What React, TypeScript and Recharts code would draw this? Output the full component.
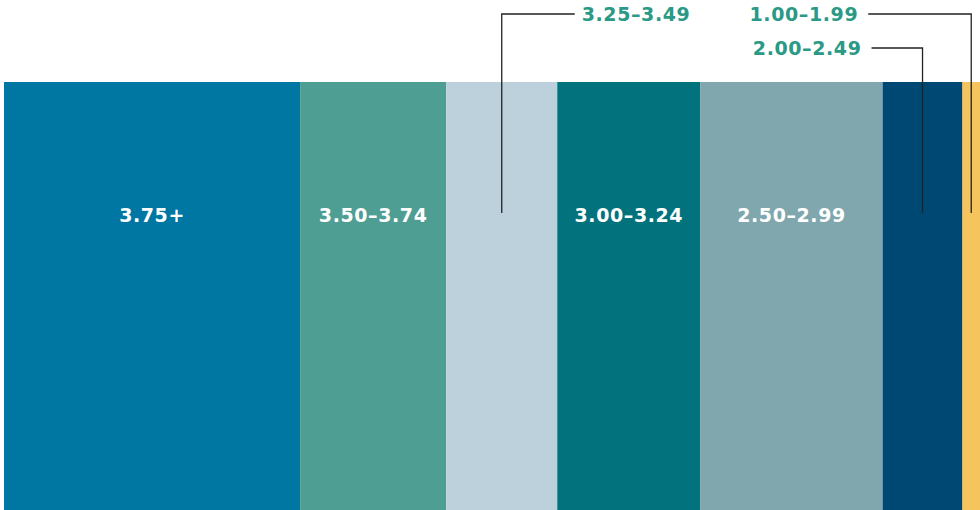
import React from "react";
import { BarChart, Bar, XAxis, YAxis, LabelList } from "recharts";

// GPA bands, left to right, share of students (%)
const bands = ["3.75+", "3.50–3.74", "3.25–3.49", "3.00–3.24", "2.50–2.99", "2.00–2.49", "1.00–1.99"];
const shares = [30.4, 15.0, 11.4, 14.7, 18.7, 8.2, 1.8];
const colors = ["#0077a2", "#4f9e93", "#bcd1db", "#02737d", "#7fa7ad", "#004874", "#f5c45c"];
// labels drawn outside with a leader line (segments too thin for text)
const outsideLabels = ["3.25–3.49", "2.00–2.49", "1.00–1.99"];
const labelRow = [14, 48, 14];
const labelSide = ["right", "left", "left"];

const row: Record<string, string | number> = { name: "GPA" };
bands.forEach((b, i) => {
  row[b] = shares[i];
});
const data = [row];
const total = shares.reduce((a, b) => a + b, 0);

const FONT = "'DejaVu Sans', sans-serif";
const LABEL_DROP = 133;

const makeLabel = (band: string) => (props: any) => {
  const { x, y, width } = props;
  const cx = x + width / 2;
  const ly = y + LABEL_DROP;
  const k = outsideLabels.indexOf(band);
  if (k < 0) {
    return (
      <text x={cx} y={ly} fill="#fff" textAnchor="middle" dominantBaseline="central"
        fontFamily={FONT} fontWeight={700} fontSize={19} letterSpacing={0.6}>
        {band}
      </text>
    );
  }
  const ty = labelRow[k];
  const right = labelSide[k] === "right";
  const hx = right ? cx + 73 : cx - (k === 1 ? 51 : 103);
  return (
    <g>
      <path d={`M${cx},${ly - 2}V${ty}H${hx}`} fill="none" stroke="#222" strokeWidth={1.3} />
      <text x={right ? hx + 7 : hx - 10} y={ty} fill="#2a9985" textAnchor={right ? "start" : "end"}
        dominantBaseline="central" fontFamily={FONT} fontWeight={700} fontSize={19} letterSpacing={0.6}>
        {band}
      </text>
    </g>
  );
};

export default function App() {
  return (
    <div style={{ position: "absolute", left: 0, top: 0, width: 980, height: 510, background: "#fff" }}>
      <BarChart width={980} height={510} data={data} layout="vertical"
        margin={{ top: 82, right: 0, bottom: 0, left: 4 }} barCategoryGap={0}>
        <XAxis type="number" domain={[0, total]} hide />
        <YAxis type="category" dataKey="name" hide />
        {bands.map((b, i) => (
          <Bar key={b} dataKey={b} stackId="a" fill={colors[i]} isAnimationActive={false}>
            <LabelList dataKey={b} content={makeLabel(b)} />
          </Bar>
        ))}
      </BarChart>
    </div>
  );
}
